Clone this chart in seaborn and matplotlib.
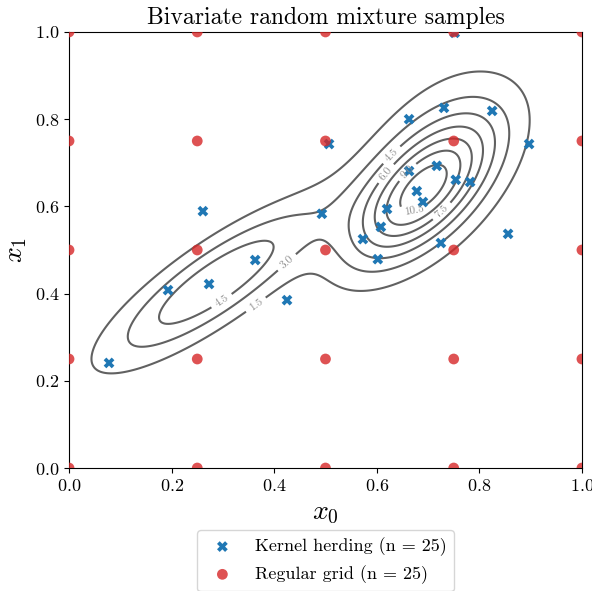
import numpy as np
import matplotlib
matplotlib.use("Agg")
import matplotlib.pyplot as plt
import seaborn as sns

# kernel herding samples (x0, x1)
herding_x0 = [0.078, 0.193, 0.273, 0.363, 0.261, 0.425, 0.507, 0.493, 0.573, 0.602,
              0.608, 0.620, 0.663, 0.663, 0.678, 0.690, 0.717, 0.731, 0.725, 0.754,
              0.782, 0.825, 0.856, 0.897, 0.752]
herding_x1 = [0.241, 0.408, 0.422, 0.477, 0.589, 0.385, 0.743, 0.583, 0.525, 0.479,
              0.553, 0.594, 0.800, 0.681, 0.635, 0.610, 0.693, 0.826, 0.516, 0.661,
              0.656, 0.819, 0.537, 0.743, 0.998]

# regular 5x5 grid
grid_vals = [0.0, 0.25, 0.5, 0.75, 1.0]
grid_x0 = [a for a in grid_vals for b in grid_vals]
grid_x1 = [b for a in grid_vals for b in grid_vals]

# mixture components: weight, mean, std, correlation
mix_w = [0.43, 0.30, 0.37]
mix_mx = [0.685, 0.715, 0.285]
mix_my = [0.63, 0.70, 0.425]
mix_sx = [0.095, 0.11, 0.145]
mix_sy = [0.11, 0.15, 0.125]
mix_rho = [0.65, 0.45, 0.84]

levels = [1.5, 3.0, 4.5, 6.0, 7.5, 9.0, 10.5]

plt.rcParams['font.family'] = 'serif'
plt.rcParams['font.serif'] = ['cmr10']
plt.rcParams['mathtext.fontset'] = 'cm'
plt.rcParams['axes.formatter.use_mathtext'] = True

g = np.linspace(0, 1, 300)
X, Y = np.meshgrid(g, g)
Z = np.zeros_like(X)
for w, mx, my, sx, sy, r in zip(mix_w, mix_mx, mix_my, mix_sx, mix_sy, mix_rho):
    zx = (X - mx) / sx
    zy = (Y - my) / sy
    q = (zx**2 - 2 * r * zx * zy + zy**2) / (1 - r**2)
    Z += w * np.exp(-q / 2) / (2 * np.pi * sx * sy * np.sqrt(1 - r**2))

fig, ax = plt.subplots(figsize=(5.92, 5.91), dpi=100)
fig.subplots_adjust(left=0.1166, right=0.983, top=0.9459, bottom=0.2081)

cs = ax.contour(X, Y, Z, levels=levels, colors='0.38', linewidths=1.5)
ax.clabel(cs, fontsize=8, colors='0.55', fmt='%.1f')

sns.scatterplot(x=herding_x0, y=herding_x1, marker='X', color='#1f77b4', s=60,
                edgecolor='none', label='Kernel herding (n = 25)', ax=ax, zorder=3)
sns.scatterplot(x=grid_x0, y=grid_x1, marker='o', color='#d62728', alpha=0.8, s=60,
                edgecolor='none', label='Regular grid (n = 25)', ax=ax, zorder=3)

ax.set_xlim(0, 1)
ax.set_ylim(0, 1)
ax.set_xticks([0, 0.2, 0.4, 0.6, 0.8, 1.0])
ax.set_yticks([0, 0.2, 0.4, 0.6, 0.8, 1.0])
ax.tick_params(labelsize=13)
ax.set_xlabel('$x_0$', fontsize=20)
ax.set_ylabel('$x_1$', fontsize=20)
ax.set_title('Bivariate random mixture samples', fontsize=17)
ax.legend(loc='upper center', bbox_to_anchor=(0.5, -0.122), fontsize=13)

fig.savefig('out.png', dpi=100)
